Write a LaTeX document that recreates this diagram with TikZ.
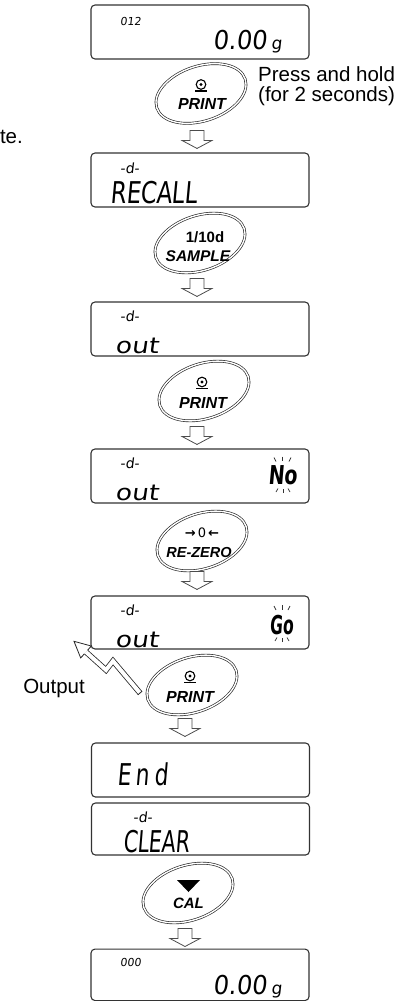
\documentclass[tikz,border=0pt]{standalone}
\usepackage{fontspec}
\setmainfont{Liberation Sans}
\newfontfamily\lcd[FakeSlant=0.12]{DejaVu Sans}
\newfontfamily\dvs{DejaVu Sans}
\usetikzlibrary{shapes.geometric,calc}
\tikzset{
  disp/.style={draw=black!80, line width=1.1pt, rounded corners=4pt, minimum width=218pt, minimum height=54pt, inner sep=0pt},
  btn/.style={ellipse, draw=black!85, double=white, double distance=1.4pt, line width=0.65pt, minimum width=93pt, minimum height=55pt, inner sep=0pt, rotate=18},
  blk/.style={draw=black!70, line width=0.8pt, fill=white, line join=miter},
  lbl/.style={inner sep=0pt, font=\fontsize{20.5}{20.7}\selectfont},
  seg/.style={inner sep=0pt},
  keytxt/.style={inner sep=0pt, font=\fontsize{16}{16}\selectfont\bfseries\itshape},
  tick/.style={line width=0.7pt, draw=black!80},
  bolt/.style={draw=black!85, line width=0.8pt, line join=miter},
}
\newcommand\blkarrow[1]{\draw[blk] (#1) -- ++(-15,-8) -- ++(8,0) -- ++(0,-10) -- ++(14,0) -- ++(0,10) -- ++(8,0) -- cycle;}
\newcommand\printicon[2]{%
  \draw[line width=1.1pt] (#1,#2) circle (4.8);
  \fill (#1,#2) circle (1.6);
  \draw[line width=1.4pt] ($(#1,#2)+(-6,6.5)$) -- ++(12,0);}
\begin{document}
\begin{tikzpicture}[x=1pt,y=-1pt]
\useasboundingbox (0,0) rectangle (414,1001);

% ---------- side texts
\node[lbl, anchor=base east] (te) at (23,143) {te.};
\node[lbl, anchor=base west] (ph1) at (258,81) {Press and hold};
\node[lbl, anchor=base west] (ph2) at (258,101.5) {(for 2 seconds)};
\node[lbl, anchor=base east] (out) at (85,693) {Output};

% ---------- display 1
\node[disp] (d1) at (200,32) {};
\node[seg, anchor=base west, font=\fontsize{11}{11}\selectfont\lcd] (d1a) at (120,25) {012};
\node[seg, anchor=base east, font=\fontsize{26}{26}\selectfont\lcd] (d1b) at (267,49) {\scalebox{0.93}[1]{0.00}};
\node[seg, anchor=base west, font=\fontsize{17}{17}\selectfont\lcd] (d1c) at (271,49) {g};

% ---------- button 1
\node[btn] (b1) at (201,93.5) {};
\printicon{201}{84.5}
\node[keytxt, anchor=base] (b1t) at (202,109.5) {PRINT};

% ---------- display 2
\node[disp] (d2) at (200,180) {};
\node[seg, anchor=base west, font=\fontsize{14}{14}\selectfont\lcd] (d2a) at (120,173) {-d-};
\node[seg, anchor=base west, font=\fontsize{30}{30}\selectfont\lcd] (d2b) at (110,203) {\scalebox{0.76}[1]{RECALL}};
\blkarrow{$(d2.north)+(-3,-4)$}

% ---------- button 2
\node[btn] (b2) at (200,243) {};
\node[inner sep=0pt, anchor=base, font=\fontsize{15}{15}\selectfont\bfseries] (b2a) at (205,242) {1/10d};
\node[inner sep=0pt, anchor=base, font=\fontsize{15.5}{15.5}\selectfont\bfseries\itshape] (b2b) at (198,261) {SAMPLE};

% ---------- display 3
\node[disp] (d3) at (200,329) {};
\node[seg, anchor=base west, font=\fontsize{14}{14}\selectfont\lcd] (d3a) at (120,321) {-d-};
\node[seg, anchor=base west, font=\fontsize{22}{22}\selectfont\lcd] (d3b) at (115,353) {\scalebox{1.2}[1]{out}};
\blkarrow{$(d3.north)+(-3,-5)$}

% ---------- button 3
\node[btn] (b3) at (204,391) {};
\printicon{202}{382}
\node[keytxt, anchor=base] (b3t) at (203,408) {PRINT};

% ---------- display 4
\node[disp] (d4) at (200,476) {};
\node[seg, anchor=base west, font=\fontsize{14}{14}\selectfont\lcd] (d4a) at (120,468) {-d-};
\node[seg, anchor=base west, font=\fontsize{22}{22}\selectfont\lcd] (d4b) at (115,500) {\scalebox{1.2}[1]{out}};
\node[seg, anchor=base, font=\fontsize{26}{26}\selectfont\lcd\bfseries] (d4c) at (282.5,484) {\scalebox{0.73}[1]{No}};
\draw[tick] (274,457.5) -- (276,461.5);
\draw[tick] (282.5,456.5) -- (282.5,461);
\draw[tick] (291,457.5) -- (289,461.5);
\draw[tick] (276,492) -- (278,488.5);
\draw[tick] (283,493) -- (283,489);
\draw[tick] (290,492) -- (288,488.5);
\blkarrow{$(d4.north)+(-3,-4)$}

% ---------- button 4
\node[btn] (b4) at (202,541) {};
\node[inner sep=0pt, font=\fontsize{13}{13}\selectfont\dvs] (b4a) at (202,532.5) {\textbf{→}\hspace{2pt}0\hspace{2pt}\textbf{←}};
\node[inner sep=0pt, anchor=base, font=\fontsize{14.5}{14.5}\selectfont\bfseries\itshape] (b4b) at (199,557) {RE-ZERO};

% ---------- display 5
\node[disp, minimum height=53pt] (d5) at (200,622.5) {};
\node[seg, anchor=base west, font=\fontsize{14}{14}\selectfont\lcd] (d5a) at (120,615) {-d-};
\node[seg, anchor=base west, font=\fontsize{22}{22}\selectfont\lcd] (d5b) at (115,647) {\scalebox{1.2}[1]{out}};
\node[seg, anchor=base, font=\fontsize{26}{26}\selectfont\lcd\bfseries] (d5c) at (281.5,634) {\scalebox{0.6}[1]{Go}};
\draw[tick] (274,606) -- (276,610);
\draw[tick] (282,605) -- (282,609.5);
\draw[tick] (290,606) -- (288,610);
\draw[tick] (275,641) -- (277,637.5);
\draw[tick] (282,642) -- (282,638);
\draw[tick] (289,641) -- (287,637.5);
\blkarrow{$(d5.north)+(-3,-6)$}

% ---------- output bolt
\coordinate (z0) at (140,693);
\coordinate (z1) at (113,661);
\coordinate (z2) at (106,670);
\coordinate (z3) at (86,652);
\coordinate (zt) at (74,641.3);
\coordinate (h1) at ($(z3)!8pt!90:(zt)$);
\coordinate (h2) at ($(z3)!8pt!-90:(zt)$);
\coordinate (s1) at ($(z3)!2.4pt!90:(zt)$);
\coordinate (s2) at ($(z3)!2.4pt!-90:(zt)$);
\coordinate (e1) at ($(z0)!2.8pt!90:(z1)$);
\coordinate (e2) at ($(z0)!2.8pt!-90:(z1)$);
\draw[bolt, double=white, double distance=4pt] (z0) -- (z1) -- (z2) -- (z3);
\fill[white] (h1) -- (zt) -- (h2) -- cycle;
\draw[bolt] (s1) -- (h1) -- (zt) -- (h2) -- (s2);
\draw[bolt] (e1) -- (e2);

% ---------- button 5
\node[btn] (b5) at (192,685) {};
\printicon{190}{676}
\node[keytxt, anchor=base] (b5t) at (190,702) {PRINT};

% ---------- display 6, 7
\node[disp] (d6) at (200.5,770) {};
\node[seg, anchor=base west, font=\fontsize{30}{30}\selectfont\lcd] (d6a) at (117,785) {\scalebox{0.72}[1]{E\hspace{7pt}n\hspace{7pt}d}};
\blkarrow{$(d6.north)+(-15.5,-6)$}

\node[disp, minimum height=52pt] (d7) at (200.5,829) {};
\node[seg, anchor=base west, font=\fontsize{14}{14}\selectfont\lcd] (d7a) at (133,822) {-d-};
\node[seg, anchor=base west, font=\fontsize{30}{30}\selectfont\lcd] (d7b) at (123,852) {\scalebox{0.68}[1]{CLEAR}};

% ---------- button 6
\node[btn] (b6) at (188,893) {};
\fill (177,880) -- (200,880) -- (188.5,892) -- cycle;
\node[keytxt, anchor=base, font=\fontsize{15}{15}\selectfont\bfseries\itshape] (b6t) at (188.5,908) {CAL};

% ---------- display 8
\node[disp, minimum height=51.5pt] (d8) at (200,974.8) {};
\node[seg, anchor=base west, font=\fontsize{11}{11}\selectfont\lcd] (d8a) at (120,966) {000};
\node[seg, anchor=base east, font=\fontsize{26}{26}\selectfont\lcd] (d8b) at (267,994) {\scalebox{0.93}[1]{0.00}};
\node[seg, anchor=base west, font=\fontsize{17}{17}\selectfont\lcd] (d8c) at (271,994) {g};
\blkarrow{$(d8.north)+(-15,-2)$}
\end{tikzpicture}
\end{document}
